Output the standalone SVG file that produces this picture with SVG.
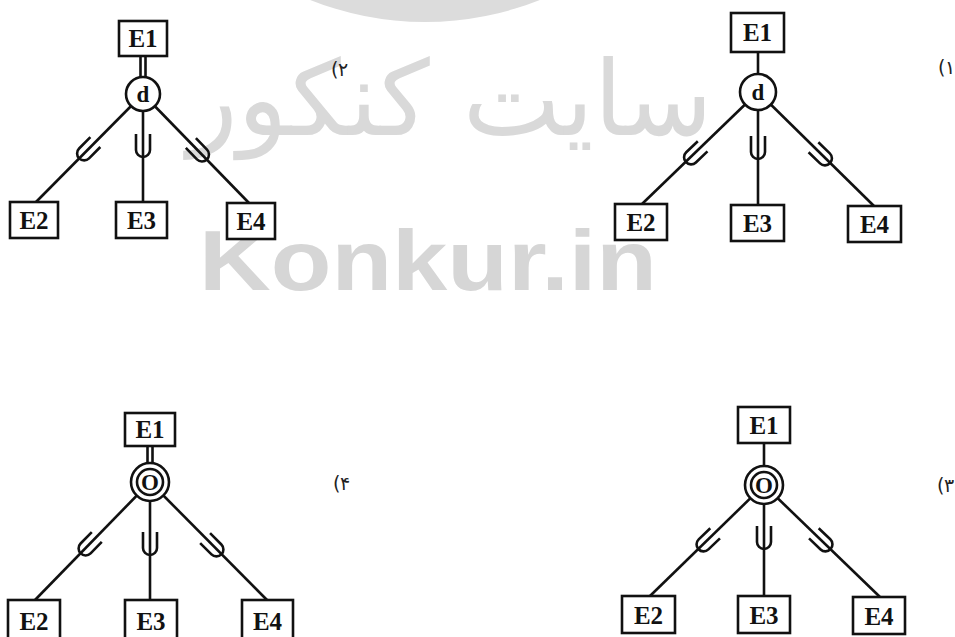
<svg xmlns="http://www.w3.org/2000/svg" xmlns:xlink="http://www.w3.org/1999/xlink" width="955" height="637" viewBox="0 0 955 637">
<style>
.bg{fill:#fff}
.wm{fill:#dcdcdc}
.wmt{fill:#d9d9d9;font-family:"DejaVu Sans",sans-serif}
.wmk{fill:#d6d6d6;font-family:"Liberation Sans",Arial,sans-serif;font-weight:bold}
.box{fill:#fff;stroke:#111;stroke-width:2.6}
.circ{fill:#fff;stroke:#111;stroke-width:2.6}
.ln{stroke:#111;stroke-width:2.6;fill:none}
.lbl{font-family:"Liberation Serif","Times New Roman",serif;font-weight:bold;font-size:25px;fill:#111;text-anchor:middle}
.sym{font-family:"Liberation Serif","Times New Roman",serif;font-weight:bold;font-size:23px;fill:#111;text-anchor:middle}
.num{font-family:"DejaVu Sans",sans-serif;font-size:19px;fill:#222}
</style>
<defs>
<path id="sub" d="M -7 -14 V 2 A 7 7 0 0 0 7 2 V -14" fill="none" stroke="#111" stroke-width="2.6"/>
</defs>
<rect class="bg" x="0" y="0" width="955" height="637"/>
<g id="watermark">
<circle class="wm" cx="425" cy="-289" r="311"/>
<text class="wmt" x="450" y="135" font-size="104" text-anchor="middle">سایت کنکور</text>
<text class="wmk" x="199" y="290" font-size="86" textLength="458" lengthAdjust="spacingAndGlyphs">Konkur.in</text>
</g>
<g id="connectors">
<!-- diagram 2 (top-left) -->
<line class="ln" x1="140.5" y1="56" x2="140.5" y2="80" stroke-width="2"/>
<line class="ln" x1="145.5" y1="56" x2="145.5" y2="80" stroke-width="2"/>
<line class="ln" x1="143" y1="94" x2="36" y2="202"/>
<line class="ln" x1="143" y1="94" x2="143" y2="202"/>
<line class="ln" x1="143" y1="94" x2="249" y2="203"/>
<use xlink:href="#sub" transform="translate(85.5,152) rotate(44.7)"/>
<use xlink:href="#sub" transform="translate(143,148)"/>
<use xlink:href="#sub" transform="translate(200.6,153) rotate(-44.1)"/>
<!-- diagram 1 (top-right) -->
<line class="ln" x1="758" y1="52" x2="758" y2="92"/>
<line class="ln" x1="758" y1="92" x2="642" y2="204"/>
<line class="ln" x1="758" y1="92" x2="758" y2="205"/>
<line class="ln" x1="758" y1="92" x2="874" y2="206"/>
<use xlink:href="#sub" transform="translate(692.5,156) rotate(46.4)"/>
<use xlink:href="#sub" transform="translate(758,150)"/>
<use xlink:href="#sub" transform="translate(823.5,157) rotate(-45.8)"/>
<!-- diagram 4 (bottom-left) -->
<line class="ln" x1="147.5" y1="446" x2="147.5" y2="466" stroke-width="2"/>
<line class="ln" x1="152.5" y1="446" x2="152.5" y2="466" stroke-width="2"/>
<line class="ln" x1="150" y1="482" x2="35" y2="600"/>
<line class="ln" x1="150" y1="482" x2="150" y2="600"/>
<line class="ln" x1="150" y1="482" x2="267" y2="600"/>
<use xlink:href="#sub" transform="translate(87,547) rotate(44.4)"/>
<use xlink:href="#sub" transform="translate(150,546)"/>
<use xlink:href="#sub" transform="translate(215,548) rotate(-45)"/>
<!-- diagram 3 (bottom-right) -->
<line class="ln" x1="764" y1="443" x2="764" y2="485"/>
<line class="ln" x1="764" y1="485" x2="650" y2="596"/>
<line class="ln" x1="764" y1="485" x2="764" y2="596"/>
<line class="ln" x1="764" y1="485" x2="880" y2="597"/>
<use xlink:href="#sub" transform="translate(705,543) rotate(46.2)"/>
<use xlink:href="#sub" transform="translate(764,540)"/>
<use xlink:href="#sub" transform="translate(824,543) rotate(-46.4)"/>
</g>
<!-- diagram 2 nodes -->
<g id="a-E1"><rect class="box" x="119" y="21" width="48" height="35"/><text class="lbl" x="143" y="47">E1</text></g>
<g id="a-d"><circle class="circ" cx="143" cy="94" r="17"/><text class="sym" x="143" y="102">d</text></g>
<g id="a-E2"><rect class="box" x="10" y="202" width="48" height="36"/><text class="lbl" x="34" y="229">E2</text></g>
<g id="a-E3"><rect class="box" x="116" y="202" width="51" height="36"/><text class="lbl" x="141.5" y="229">E3</text></g>
<g id="a-E4"><rect class="box" x="227" y="203" width="48" height="36"/><text class="lbl" x="251" y="230">E4</text></g>
<g id="a-label"><text class="num" x="331" y="76">(</text><text class="num" x="338" y="76">۲</text></g>
<!-- diagram 1 nodes -->
<g id="b-E1"><rect class="box" x="731" y="13" width="53" height="39"/><text class="lbl" x="757.5" y="41">E1</text></g>
<g id="b-d"><circle class="circ" cx="758" cy="92" r="18"/><text class="sym" x="758" y="100">d</text></g>
<g id="b-E2"><rect class="box" x="615" y="204" width="52" height="36"/><text class="lbl" x="641" y="231">E2</text></g>
<g id="b-E3"><rect class="box" x="731" y="205" width="53" height="36"/><text class="lbl" x="757.5" y="232">E3</text></g>
<g id="b-E4"><rect class="box" x="848" y="206" width="53" height="36"/><text class="lbl" x="874.5" y="233">E4</text></g>
<g id="b-label"><text class="num" x="938" y="74">(</text><text class="num" x="945" y="74">۱</text></g>
<!-- diagram 4 nodes -->
<g id="c-E1"><rect class="box" x="125" y="413" width="50" height="33"/><text class="lbl" x="150" y="438">E1</text></g>
<g id="c-o"><circle class="circ" cx="150" cy="482" r="19"/><circle class="circ" cx="150" cy="482" r="13" stroke-width="2.2"/><text class="sym" x="150" y="490">O</text></g>
<g id="c-E2"><rect class="box" x="8" y="600" width="52" height="40"/><text class="lbl" x="34" y="630">E2</text></g>
<g id="c-E3"><rect class="box" x="125" y="600" width="52" height="40"/><text class="lbl" x="151" y="630">E3</text></g>
<g id="c-E4"><rect class="box" x="242" y="600" width="51" height="40"/><text class="lbl" x="267.5" y="630">E4</text></g>
<g id="c-label"><text class="num" x="333" y="490">(</text><text class="num" x="340" y="490">۴</text></g>
<!-- diagram 3 nodes -->
<g id="d-E1"><rect class="box" x="738" y="407" width="52" height="36"/><text class="lbl" x="764" y="434">E1</text></g>
<g id="d-o"><circle class="circ" cx="764" cy="485" r="19"/><circle class="circ" cx="764" cy="485" r="13" stroke-width="2.2"/><text class="sym" x="764" y="493">O</text></g>
<g id="d-E2"><rect class="box" x="622" y="596" width="53" height="37"/><text class="lbl" x="648.5" y="624">E2</text></g>
<g id="d-E3"><rect class="box" x="738" y="596" width="52" height="37"/><text class="lbl" x="764" y="624">E3</text></g>
<g id="d-E4"><rect class="box" x="853" y="597" width="52" height="37"/><text class="lbl" x="879" y="625">E4</text></g>
<g id="d-label"><text class="num" x="937" y="492">(</text><text class="num" x="944" y="492">۳</text></g>
</svg>
